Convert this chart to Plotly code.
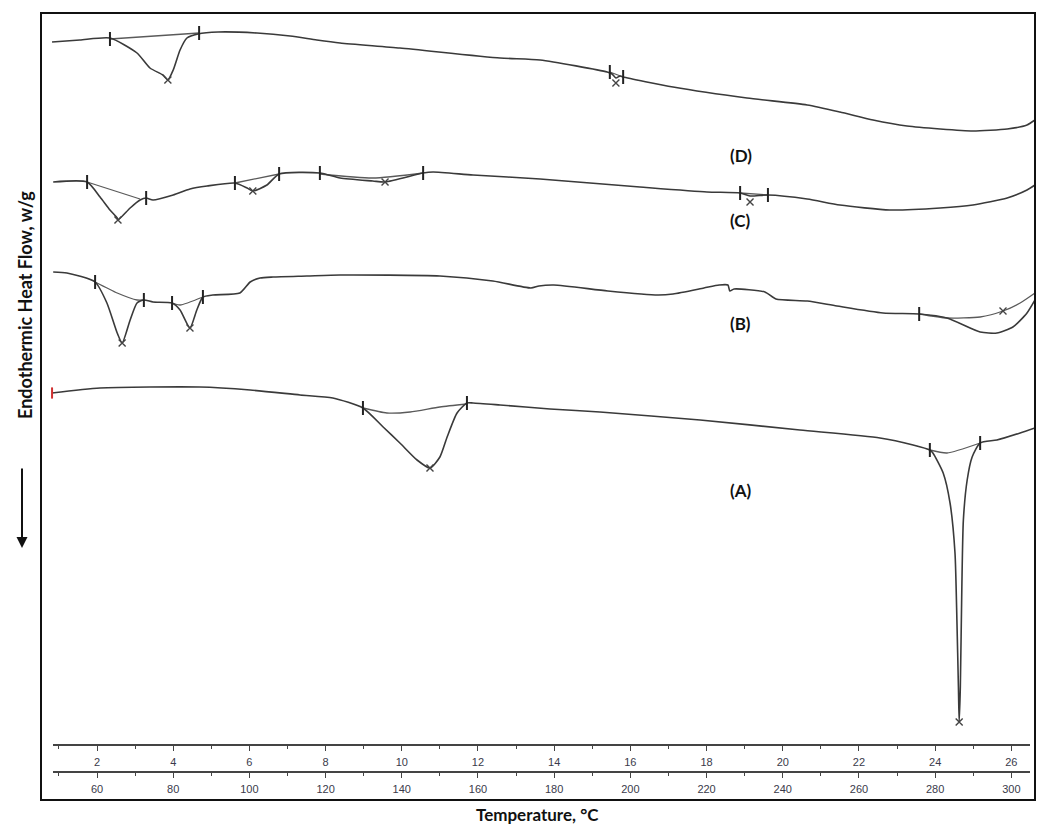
import plotly.graph_objects as go

# ---------------- data (temperature in °C, heat flow in arbitrary units; endotherm = down) -------------
# Curve (A)
A_T = [48.2, 60.8, 87.0, 100.2, 113.3, 121.9, 129.8, 135.1, 139.5, 144.0, 147.4, 150.0, 151.9, 154.5,
       157.1, 158.7, 165.8, 178.9, 192.0, 218.3, 244.5, 265.5, 274.2, 278.6, 279.4, 282.1, 283.9, 285.2,
       285.7, 286.1, 286.3, 286.6, 287.0, 287.4, 288.4, 289.7, 291.8, 296.2, 302.3, 306.2]
A_HF = [407, 412, 413, 410, 405, 402, 392, 373, 357, 340, 332, 343, 363, 387,
        397, 397, 395, 391, 388, 380, 370, 362, 355, 350, 347, 327, 297, 247,
        180, 113, 78, 113, 213, 280, 320, 343, 357, 360, 367, 372]
A_base_T = [129.8, 136.1, 142.2, 150.0, 157.1, None, 278.6, 283.1, 291.8]
A_base_HF = [392, 387, 388, 393, 396, None, 350, 347, 357]
A_lim_T = [129.8, 157.1, 278.6, 291.8]
A_lim_HF = [392, 397, 350, 357]
A_peak_T = [147.4, 286.3]
A_peak_HF = [332, 78]
A_start_T = [48.2]
A_start_HF = [407]

# Curve (B)
B_T = [48.5, 52.1, 59.5, 62.6, 65.3, 66.6, 68.7, 70.5, 72.3, 74.7, 79.7, 81.8, 84.4, 86.2, 87.8, 90.4,
       97.5, 100.2, 102.8, 106.2, 115.1, 123.8, 150.0, 163.9, 173.9, 176.0, 179.9, 194.1, 207.2, 211.2,
       219.3, 223.3, 225.6, 226.1, 227.2, 235.3, 238.2, 246.4, 254.2, 266.3, 275.8, 283.1, 291.8, 296.2,
       300.4, 304.1, 306.2]
B_HF = [528, 527, 518, 497, 467, 457, 480, 497, 500, 498, 497, 490, 472, 490, 503, 505,
        507, 518, 522, 523, 524, 525, 524, 519, 512, 514, 515, 509, 505, 506,
        512, 515, 515, 509, 511, 508, 501, 499, 494, 487, 486, 482, 468, 467,
        473, 487, 500]
B_base_T = [59.5, 65.3, 70.5, 72.3, None, 79.7, 81.8, 87.8, None, 275.8, 283.1, 291.8, 297.8, 302.3, 306.2]
B_base_HF = [518, 507, 500, 500, None, 497, 495, 503, None, 486, 482, 483, 489, 497, 507]
B_lim_T = [59.5, 72.3, 79.7, 87.8, 275.8]
B_lim_HF = [518, 500, 497, 503, 486]
B_peak_T = [66.6, 84.4, 297.8]
B_peak_HF = [457, 472, 489]

# Curve (C)
C_T = [48.5, 57.4, 60.8, 63.4, 65.3, 65.5, 68.7, 71.3, 72.9, 74.7, 80.0, 84.4, 88.9, 96.2, 99.4, 100.9,
       104.6, 107.8, 118.5, 123.8, 132.4, 135.6, 145.6, 148.2, 158.7, 176.3, 202.5, 220.1, 228.8, 231.4,
       236.1, 246.4, 255.0, 268.1, 281.3, 289.9, 298.9, 304.1, 306.2]
C_HF = [618, 618, 603, 590, 582, 580, 592, 600, 602, 600, 605, 611, 614, 617, 612, 609,
        615, 626, 627, 622, 619, 618, 627, 628, 625, 621, 613, 608, 607, 604,
        605, 601, 595, 590, 592, 595, 602, 610, 615]
C_base_T = [57.4, 71.3, None, 96.2, 107.8, None, 118.5, 132.4, 145.6, None, 228.8, 236.1]
C_base_HF = [618, 601, None, 617, 626, None, 626, 622, 627, None, 607, 605]
C_lim_T = [57.4, 72.9, 96.2, 107.8, 118.5, 145.6, 228.8, 236.1]
C_lim_HF = [618, 602, 617, 626, 627, 627, 607, 605]
C_peak_T = [65.5, 100.9, 135.6, 231.4]
C_peak_HF = [580, 609, 618, 598]

# Curve (D)
D_T = [48.2, 55.5, 63.4, 70.5, 73.9, 77.3, 78.6, 80.0, 81.8, 83.6, 86.5, 91.8, 102.0, 110.7, 117.7,
       123.8, 139.5, 165.8, 176.3, 193.9, 195.2, 196.2, 197.3, 198.1, 211.2, 230.6, 246.4, 255.0, 263.7,
       272.6, 281.3, 289.9, 298.9, 304.1, 306.2]
D_HF = [758, 760, 762, 747, 732, 725, 720, 730, 750, 762, 766, 768, 767, 764, 760,
        757, 752, 742, 740, 728, 726, 722, 724, 723, 713, 702, 695, 688, 680,
        674, 671, 669, 671, 675, 680]
D_base_T = [63.4, 86.8, None, 194.6, 198.1]
D_base_HF = [761, 767, None, 728, 723]
D_lim_T = [63.4, 86.8, 194.6, 198.1]
D_lim_HF = [761, 767, 728, 723]
D_peak_T = [78.6, 196.2]
D_peak_HF = [720, 717]

curve_labels = ["(A)", "(B)", "(C)", "(D)"]
label_T = [229.0, 229.0, 229.0, 229.0]
label_HF = [310, 477, 580, 645]

time_range_min = [0.845, 26.49]      # time axis (min) range
temp_range_c = [48.45, 304.9]        # temperature axis (°C) range

# ---------------- figure -------------
MAIN = "#3a3a3a"
THIN = "#5a5a5a"

fig = go.Figure()

curves = [
    (A_T, A_HF, A_base_T, A_base_HF, A_lim_T, A_lim_HF, A_peak_T, A_peak_HF),
    (B_T, B_HF, B_base_T, B_base_HF, B_lim_T, B_lim_HF, B_peak_T, B_peak_HF),
    (C_T, C_HF, C_base_T, C_base_HF, C_lim_T, C_lim_HF, C_peak_T, C_peak_HF),
    (D_T, D_HF, D_base_T, D_base_HF, D_lim_T, D_lim_HF, D_peak_T, D_peak_HF),
]

for (t, h, bt, bh, lt, lh, pt, pk) in curves:
    fig.add_trace(go.Scatter(x=bt, y=bh, mode="lines",
                             line=dict(color=THIN, width=1.3, shape="spline", smoothing=0.6),
                             showlegend=False, hoverinfo="skip", connectgaps=False))
    fig.add_trace(go.Scatter(x=t, y=h, mode="lines",
                             line=dict(color=MAIN, width=1.6, shape="spline", smoothing=0.6),
                             showlegend=False, hoverinfo="skip"))
    fig.add_trace(go.Scatter(x=lt, y=lh, mode="markers",
                             marker=dict(symbol="line-ns", size=10, line=dict(color="#222", width=2)),
                             showlegend=False, hoverinfo="skip"))
    fig.add_trace(go.Scatter(x=pt, y=pk, mode="markers",
                             marker=dict(symbol="x-thin", size=7, line=dict(color="#444", width=1.4)),
                             showlegend=False, hoverinfo="skip"))

fig.add_trace(go.Scatter(x=A_start_T, y=A_start_HF, mode="markers",
                         marker=dict(symbol="line-ns", size=8, line=dict(color="#d03030", width=2)),
                         showlegend=False, hoverinfo="skip"))

# invisible traces so the two scale axes are drawn
fig.add_trace(go.Scatter(x=time_range_min, y=[0, 0], xaxis="x2", yaxis="y", mode="markers",
                         marker=dict(opacity=0), showlegend=False, hoverinfo="skip"))
fig.add_trace(go.Scatter(x=temp_range_c, y=[0, 0], xaxis="x3", yaxis="y", mode="markers",
                         marker=dict(opacity=0), showlegend=False, hoverinfo="skip"))

for lab, lt, lh in zip(curve_labels, label_T, label_HF):
    fig.add_annotation(x=lt, y=lh, xref="x", yref="y", text=f"<b>{lab}</b>", showarrow=False,
                       font=dict(family="Lato, Open Sans, sans-serif", size=17, color="#111"))

W, H = 1037, 832
L, R, T, B = 41, 2, 13, 32
pw, ph = W - L - R, H - T - B

def px_x(p):
    return (p - L) / pw

def px_y(p):
    return (H - B - p) / ph

axis_common = dict(showline=True, linecolor="#444", linewidth=1.5, ticks="outside", ticklen=5,
                   tickwidth=1.3, tickcolor="#444", showgrid=False, zeroline=False,
                   tickfont=dict(family="Liberation Sans, Arial, sans-serif", size=11, color="#3a3a4a"),
                   anchor="free", side="bottom", ticklabelstandoff=2,
                   domain=[px_x(53), px_x(1030)])

fig.update_layout(
    width=W, height=H,
    margin=dict(l=L, r=R, t=T, b=B),
    paper_bgcolor="white", plot_bgcolor="rgba(0,0,0,0)",
    xaxis=dict(range=[45.3, 306.2], visible=False, domain=[0, 1]),
    yaxis=dict(range=[0, 787], visible=False, domain=[0, 1]),
    xaxis2=dict(range=time_range_min, position=px_y(745), tick0=0, dtick=2,
                minor=dict(ticks="outside", ticklen=3, dtick=1, tick0=0, tickcolor="#444", tickwidth=1.2),
                **axis_common),
    xaxis3=dict(range=temp_range_c, position=px_y(772), tick0=0, dtick=20,
                minor=dict(ticks="outside", ticklen=3, dtick=10, tick0=0, tickcolor="#444", tickwidth=1.2),
                **axis_common),
    showlegend=False,
)

# frame
fig.add_shape(type="rect", xref="paper", yref="paper", x0=0, x1=1, y0=0, y1=1,
              line=dict(color="#111", width=2), layer="above")

# axis titles
fig.add_annotation(x=px_x(25), y=px_y(305), xref="paper", yref="paper", textangle=-90,
                   xanchor="center", yanchor="middle",
                   text="<b>Endothermic Heat Flow, w/g</b>", showarrow=False,
                   font=dict(family="Lato, Open Sans, sans-serif", size=18, color="#111"))
fig.add_annotation(x=px_x(22), y=px_y(548), xref="paper", yref="paper", text="",
                   showarrow=True, arrowhead=2, arrowsize=1.1, arrowwidth=2, arrowcolor="#111",
                   ax=0, ay=-81)
fig.add_annotation(x=px_x(537), y=px_y(815), xref="paper", yref="paper",
                   xanchor="center", yanchor="middle",
                   text="<b>Temperature, °C</b>", showarrow=False,
                   font=dict(family="Lato, Open Sans, sans-serif", size=17, color="#111"))

fig.write_html("out.html", config={"displayModeBar": False},
               post_script="document.body.style.margin='0';document.body.style.overflow='hidden';")
